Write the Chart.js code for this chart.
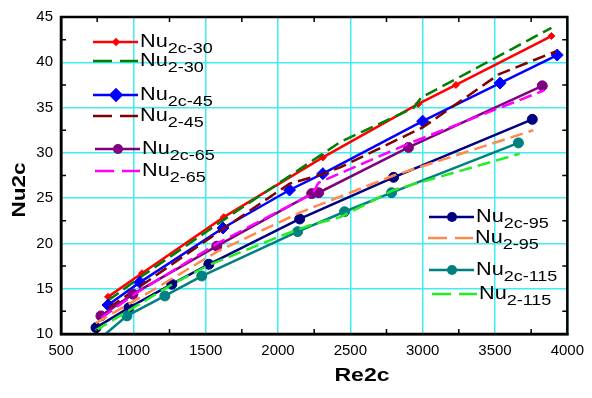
<!DOCTYPE html>
<html>
<head>
<meta charset="utf-8">
<script src="https://cdn.jsdelivr.net/npm/chart.js@4.4.0/dist/chart.umd.min.js"></script>
<style>
  html, body { margin: 0; padding: 0; background: #fff; }
</style>
</head>
<body>
<canvas id="chart" width="592" height="398"></canvas>
<script>
// ----- Data -----
const xTicks = [500, 1000, 1500, 2000, 2500, 3000, 3500, 4000];
const yTicks = [10, 15, 20, 25, 30, 35, 40, 45];
const xMinor = [750, 1250, 1750, 2250, 2750, 3250, 3750];
const yMinor = [12.5, 17.5, 22.5, 27.5, 32.5, 37.5, 42.5];

const re30c = [825, 1060, 1625, 2310, 2970, 3230, 3890];
const nu30c = [14.1, 16.7, 22.9, 29.5, 35.4, 37.5, 42.9];
const re30 = [825, 1060, 1625, 2310, 2430, 2940, 2990, 3890];
const nu30 = [13.7, 16.4, 22.6, 29.9, 31.2, 35.0, 36.1, 43.8];

const re45c = [825, 1045, 1620, 2080, 2310, 3000, 3535, 3930];
const nu45c = [13.2, 15.7, 21.7, 25.9, 27.7, 33.5, 37.7, 40.8];
const re45 = [830, 1060, 1620, 2080, 2300, 2430, 3000, 3530, 3920];
const nu45 = [12.9, 15.4, 21.6, 26.6, 27.6, 28.4, 32.8, 38.7, 41.2];

const re65c = [776, 997, 1577, 2233, 2281, 2902, 3827];
const nu65c = [12.0, 14.4, 19.7, 25.5, 25.6, 30.6, 37.4];
const re65 = [780, 1000, 1580, 2240, 2280, 2900, 3840];
const nu65 = [11.8, 14.3, 20.0, 25.5, 26.7, 31.0, 36.9];

const re95c = [742, 969, 1266, 1522, 2150, 2799, 3758];
const nu95c = [10.7, 12.9, 15.5, 17.7, 22.7, 27.3, 33.7];
const re95 = [740, 1130, 1580, 2150, 2800, 3765];
const nu95 = [11.2, 14.8, 19.1, 23.4, 27.5, 32.5];

const re115c = [770, 956, 1218, 1473, 2136, 2460, 2785, 3662];
const nu115c = [9.5, 12.0, 14.2, 16.4, 21.3, 23.5, 25.6, 31.1];
const re115 = [740, 1000, 1270, 1520, 2000, 2220, 2430, 2800, 3670];
const nu115 = [10.4, 12.9, 15.5, 17.6, 20.7, 22.0, 22.9, 25.9, 29.9];

const subs = ["2c-30", "2-30", "2c-45", "2-45", "2c-65", "2-65",
              "2c-95", "2-95", "2c-115", "2-115"];

function pts(xs, ys) {
  return xs.map((x, i) => ({ x: x, y: ys[i] }));
}

const DASH = [13, 6];
const FONT = "Arial, 'Liberation Sans', sans-serif";

function solid(label, xs, ys, color, style, r) {
  return {
    label, data: pts(xs, ys), borderColor: color, backgroundColor: color,
    borderWidth: 2.5, pointStyle: style, pointRadius: r, pointBorderWidth: 1,
    tension: 0
  };
}
function dashed(label, xs, ys, color) {
  return {
    label, data: pts(xs, ys), borderColor: color, backgroundColor: color,
    borderWidth: 2.5, borderDash: DASH, pointRadius: 0, tension: 0
  };
}

const datasets = [
  dashed(subs[9], re115, nu115, "#22ee22"),
  solid(subs[8], re115c, nu115c, "#008080", "circle", 5),
  dashed(subs[7], re95, nu95, "#ff8a4c"),
  solid(subs[6], re95c, nu95c, "#000080", "circle", 5),
  dashed(subs[5], re65, nu65, "#ff00ff"),
  solid(subs[4], re65c, nu65c, "#800080", "circle", 5),
  dashed(subs[3], re45, nu45, "#800000"),
  solid(subs[2], re45c, nu45c, "#0000ff", "rectRot", 6),
  dashed(subs[1], re30, nu30, "#008000"),
  solid(subs[0], re30c, nu30c, "#ff0000", "rectRot", 3.5)
];

// legend rows: [dataset label, sample x, line y]
const legendRows = [
  [subs[0], 93, 42], [subs[1], 93, 61], [subs[2], 93, 95], [subs[3], 93, 116],
  [subs[4], 95, 149], [subs[5], 95, 171],
  [subs[6], 429, 217], [subs[7], 428, 238], [subs[8], 429, 270], [subs[9], 432, 294]
];

// text in the picture is a bit wider than the font, so stretch it
function wideText(ctx, text, x, y, sx) {
  ctx.save();
  ctx.translate(x, y);
  ctx.scale(sx, 1);
  ctx.fillText(text, 0, 0);
  ctx.restore();
  return ctx.measureText(text).width * sx;
}

const framePlugin = {
  id: "frame",
  afterDraw(chart) {
    const { ctx, chartArea: a, scales } = chart;
    ctx.save();
    // inward minor ticks on all four sides
    ctx.strokeStyle = "#000";
    ctx.lineWidth = 1.5;
    ctx.beginPath();
    xMinor.forEach(v => {
      const px = scales.x.getPixelForValue(v);
      ctx.moveTo(px, a.bottom); ctx.lineTo(px, a.bottom - 5);
      ctx.moveTo(px, a.top); ctx.lineTo(px, a.top + 5);
    });
    yMinor.forEach(v => {
      const py = scales.y.getPixelForValue(v);
      ctx.moveTo(a.left, py); ctx.lineTo(a.left + 5, py);
      ctx.moveTo(a.right, py); ctx.lineTo(a.right - 5, py);
    });
    ctx.stroke();
    ctx.lineWidth = 2.5;
    ctx.strokeRect(a.left, a.top, a.right - a.left, a.bottom - a.top);

    // axis titles
    ctx.fillStyle = "#000";
    ctx.font = "bold 18px " + FONT;
    ctx.textAlign = "center";
    ctx.textBaseline = "middle";
    wideText(ctx, "Re2c", 362, 376, 1.28);
    ctx.translate(20, 190);
    ctx.rotate(-Math.PI / 2);
    wideText(ctx, "Nu2c", 0, 0, 1.25);
    ctx.restore();

    // legend with subscripts
    ctx.save();
    legendRows.forEach(([lab, x0, y]) => {
      const ds = chart.data.datasets.find(d => d.label === lab);
      ctx.strokeStyle = ds.borderColor;
      ctx.fillStyle = ds.borderColor;
      ctx.lineWidth = 2.5;
      ctx.setLineDash(ds.borderDash ? [19, 8] : []);
      ctx.beginPath();
      ctx.moveTo(x0, y); ctx.lineTo(x0 + 45, y);
      ctx.stroke();
      ctx.setLineDash([]);
      if (ds.pointRadius > 0) {
        const cx = x0 + 23, r = ds.pointRadius;
        ctx.beginPath();
        if (ds.pointStyle === "circle") {
          ctx.arc(cx, y, r, 0, Math.PI * 2);
        } else {
          ctx.moveTo(cx, y - r * 1.2); ctx.lineTo(cx + r * 1.2, y);
          ctx.lineTo(cx, y + r * 1.2); ctx.lineTo(cx - r * 1.2, y);
          ctx.closePath();
        }
        ctx.fill();
      }
      ctx.fillStyle = "#000";
      ctx.textAlign = "left";
      ctx.textBaseline = "alphabetic";
      ctx.font = "18.5px " + FONT;
      const w = wideText(ctx, "Nu", x0 + 47, y + 5, 1.17);
      ctx.font = "15px " + FONT;
      wideText(ctx, lab, x0 + 47 + w, y + 11, 1.2);
    });
    ctx.restore();
  }
};

new Chart(document.getElementById("chart"), {
  type: "line",
  data: { datasets },
  plugins: [framePlugin],
  options: {
    responsive: false,
    animation: false,
    layout: { padding: { top: 16, right: 24, left: 0, bottom: 0 } },
    plugins: { legend: { display: false }, tooltip: { enabled: false } },
    scales: {
      x: {
        type: "linear", min: 500, max: 4000,
        afterBuildTicks: s => { s.ticks = xTicks.map(v => ({ value: v })); },
        afterFit: s => { s.height = 64; },
        ticks: { color: "#000", font: { family: "Arial", size: 15 }, padding: 8,
                 callback: v => String(v) },
        grid: { color: "#40eef0", lineWidth: 1.5, drawTicks: false },
        border: { display: true, color: "#000", width: 2.5 }
      },
      y: {
        type: "linear", min: 10, max: 45,
        afterBuildTicks: s => { s.ticks = yTicks.map(v => ({ value: v })); },
        afterFit: s => { s.width = 61; },
        ticks: { color: "#000", font: { family: "Arial", size: 15 }, padding: 8,
                 callback: v => String(v) },
        grid: { color: "#40eef0", lineWidth: 1.5, drawTicks: false },
        border: { display: true, color: "#000", width: 2.5 }
      }
    }
  }
});
</script>
</body>
</html>
